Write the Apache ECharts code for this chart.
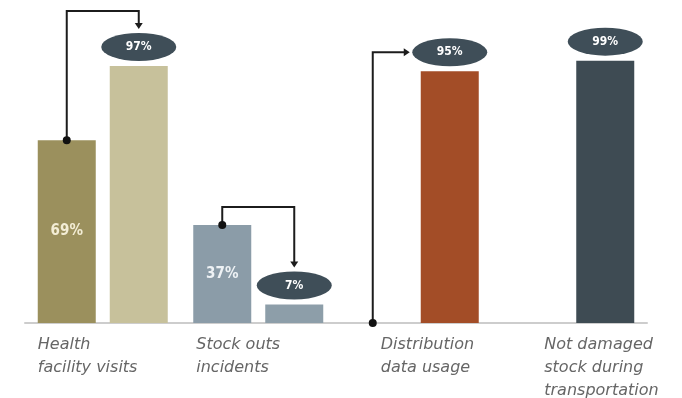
<!DOCTYPE html>
<html><head><meta charset="utf-8">
<script src="https://cdn.jsdelivr.net/npm/echarts@6/dist/echarts.min.js"></script>
<style>html,body{margin:0;padding:0;background:#fff}#c{width:682px;height:398px}</style>
</head><body><div id="c"></div>
<script>
// ---- data ----
const categories = ['Health\nfacility visits', 'Stock outs\nincidents', 'Distribution\ndata usage', 'Not damaged\nstock during\ntransportation'];
const beforeValues = [69, 37, null, null];
const afterValues = [97, 7, 95, 99];
const beforeLabels = ['69%', '37%', '', ''];
const afterLabels = ['97%', '7%', '95%', '99%'];
const connectorCats = [0, 1, 2];

// ---- styles ----
const beforeColors = ['#9b905d', '#8b9ca8', null, null];
const beforeLabelColors = ['#f3edd5', '#eef2f5', '#fff', '#fff'];
const afterColors = ['#c7c19b', '#8d9ea9', '#a34d27', '#3e4b53'];
const ellipseColor = '#3f4e58';
const BW = 58, GAP = 14, OFF = (BW + GAP) / 2;
const labelShift = [-65, -62, -33, -25];
const FONT = "'DejaVu Sans Condensed','DejaVu Sans',sans-serif";

const chart = echarts.init(document.getElementById('c'), null, {renderer: 'canvas'});

const beforeData = beforeValues.map((v, i) => ({
  value: v,
  itemStyle: {color: beforeColors[i]},
  label: {color: beforeLabelColors[i]}
}));
const afterData = afterValues.map((v, i) => ({value: v, itemStyle: {color: afterColors[i]}}));

chart.setOption({
  animation: false,
  backgroundColor: '#fff',
  grid: {left: 25, right: 35, top: 58, bottom: 75},
  xAxis: {
    type: 'category', data: categories,
    axisTick: {show: false}, axisLabel: {show: false},
    axisLine: {lineStyle: {color: '#cdcdcd', width: 2}}
  },
  yAxis: {type: 'value', min: 0, max: 100, show: false, splitLine: {show: false}},
  series: [
    {
      type: 'bar', name: 'before', data: beforeData, barWidth: BW, barGap: (GAP / BW * 100) + '%', z: 2,
      label: {show: true, position: 'inside', fontFamily: FONT, fontWeight: 'bold', fontSize: 15,
        formatter: p => beforeLabels[p.dataIndex]}
    },
    {
      type: 'bar', name: 'after', data: afterData, barWidth: BW, z: 2,
      label: {show: true, position: 'top', distance: 13, color: '#fff', fontFamily: FONT, fontWeight: 'bold', fontSize: 12,
        formatter: p => afterLabels[p.dataIndex]}
    },
    {
      type: 'pictorialBar', name: 'ellipse', data: afterValues, z: 1,
      symbol: 'circle', symbolSize: [75, 28], symbolPosition: 'end', symbolOffset: [OFF, -33],
      itemStyle: {color: ellipseColor}, clip: false, silent: true
    },
    {
      type: 'custom', name: 'connectors', clip: false, silent: true, z: 3,
      data: connectorCats.map(i => [i, beforeValues[i] == null ? 0 : beforeValues[i], afterValues[i], beforeValues[i] == null ? 1 : 0]),
      renderItem: function (params, api) {
        const i = api.value(0);
        const b = api.coord([i, api.value(1)]);
        const a = api.coord([i, api.value(2)]);
        const side = api.value(3) === 1;
        const bx = b[0] - OFF, ax = a[0] + OFF;
        const ellCy = a[1] - 19, ellTop = ellCy - 14;
        const children = [];
        const ls = {stroke: '#1c1c1c', lineWidth: 2, fill: null};
        if (!side) {
          const tipY = ellTop - 4;
          const topY = Math.min(b[1], tipY) - 18;
          children.push({type: 'polyline', shape: {points: [[bx, b[1]], [bx, topY], [ax, topY], [ax, tipY - 5]]}, style: ls});
          children.push({type: 'polygon', shape: {points: [[ax - 4, tipY - 6], [ax + 4, tipY - 6], [ax, tipY]]}, style: {fill: '#1c1c1c'}});
        } else {
          const tipX = ax - 37 - 3;
          children.push({type: 'polyline', shape: {points: [[bx - 5, b[1]], [bx - 5, ellCy], [tipX - 5, ellCy]]}, style: ls});
          children.push({type: 'polygon', shape: {points: [[tipX - 6, ellCy - 4], [tipX - 6, ellCy + 4], [tipX, ellCy]]}, style: {fill: '#1c1c1c'}});
        }
        children.push({type: 'circle', shape: {cx: side ? bx - 5 : bx, cy: b[1], r: 4}, style: {fill: '#111'}});
        return {type: 'group', children: children};
      }
    },
    {
      type: 'custom', name: 'catLabels', clip: false, silent: true,
      data: categories.map((c, i) => [i]),
      renderItem: function (params, api) {
        const i = api.value(0);
        const p = api.coord([i, 0]);
        return {
          type: 'text', x: p[0] + labelShift[i], y: p[1] + 10,
          style: {text: categories[i], fill: '#666', fontFamily: "'DejaVu Sans',sans-serif", fontStyle: 'italic',
            fontSize: 16, lineHeight: 23, align: 'left', verticalAlign: 'top'}
        };
      }
    }
  ]
});
</script></body></html>
